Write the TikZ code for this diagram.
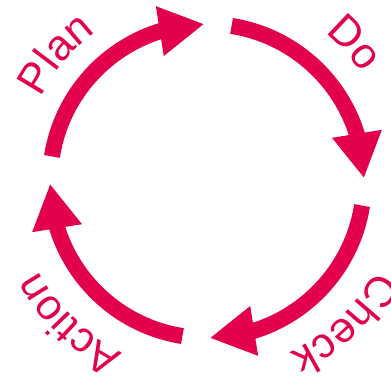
\documentclass[tikz,border=0pt]{standalone}
\usepackage{fontspec}
\setmainfont{Liberation Sans}
\usetikzlibrary{arrows.meta,bending,decorations.text,calc}
\definecolor{pdcared}{HTML}{E2004F}
\newcommand{\pdcafont}{\fontsize{43}{50}\selectfont}
\tikzset{
  cyclearrow/.style={draw=pdcared,line width=16pt,-{Triangle[flex,length=45pt,width=47pt,fill=pdcared]}},
  cyclelabel/.style={decorate,decoration={text along path,text={|\pdcafont|#1},text align=center,text color=pdcared}}
}
\begin{document}
\begin{tikzpicture}[x=1pt,y=1pt]
\useasboundingbox (0,0) rectangle (391,376);
\coordinate (c) at (207,195);
% the four arcs of the cycle
\draw[cyclearrow] ($(c)+(171:157)$) arc[start angle=171,end angle=91,radius=157];
\draw[cyclearrow] ($(c)+(81:157)$) arc[start angle=81,end angle=1,radius=157];
\draw[cyclearrow] ($(c)+(-9:157)$) arc[start angle=-9,end angle=-89,radius=157];
\draw[cyclearrow] ($(c)+(-99:157)$) arc[start angle=-99,end angle=-179,radius=157];
% labels on the outside
\path[cyclelabel=Plan] ($(c)+(176:186)$) arc[start angle=176,end angle=104,radius=186];
\path[cyclelabel=Do] ($(c)+(79:189)$) arc[start angle=79,end angle=7,radius=189];
\path[cyclelabel=Check] ($(c)+(-10:191)$) arc[start angle=-10,end angle=-82,radius=191];
\path[cyclelabel=Action] ($(c)+(-98:191)$) arc[start angle=-98,end angle=-170,radius=191];
\end{tikzpicture}
\end{document}
